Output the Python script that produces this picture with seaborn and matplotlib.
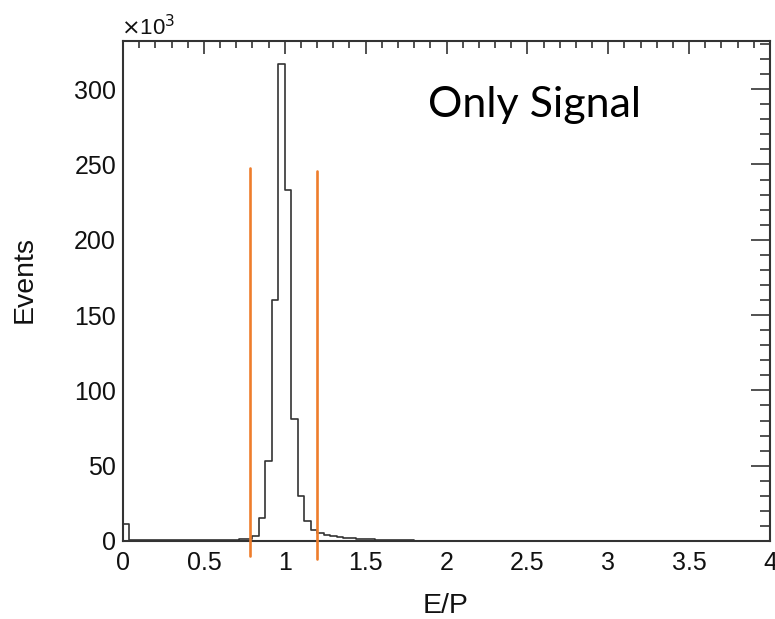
import numpy as np
import pandas as pd
import matplotlib
matplotlib.use("Agg")
import matplotlib.pyplot as plt
from matplotlib.ticker import MultipleLocator, FuncFormatter
import seaborn as sns

# ---- data (Events in units of 10^3, 100 bins of width 0.04 from 0 to 4) ----
x_min, x_max, bin_width = 0.0, 4.0, 0.04
counts_k = [
    11.5, 0.6, 0.6, 0.6, 0.6, 0.6, 0.6, 0.6, 0.6, 0.6,
    0.6, 0.6, 0.6, 0.6, 0.6, 0.7, 0.8, 0.9, 1.1, 1.5,
    3.5, 15.0, 53.0, 160.0, 317.0, 233.0, 81.0, 30.0, 13.0, 7.5,
    5.5, 4.3, 3.4, 2.8, 2.2, 1.8, 1.5, 1.2, 1.0, 0.85,
    0.7, 0.6, 0.5, 0.42, 0.36, 0.3, 0.25, 0.2, 0.18, 0.15,
    0.13, 0.11, 0.1, 0.09, 0.08, 0.07, 0.06, 0.05, 0.05, 0.04,
    0.03, 0.03, 0.02, 0.02, 0.02, 0.01, 0.01, 0.01, 0.01, 0.01,
    0, 0, 0, 0, 0, 0, 0, 0, 0, 0,
    0, 0, 0, 0, 0, 0, 0, 0, 0, 0,
    0, 0, 0, 0, 0, 0, 0, 0, 0, 0,
]
# selection cut lines (E/P position, bottom, top in 10^3 events)
cut_x = [0.785, 1.197]
cut_bottom = [-10.0, -12.0]
cut_top = [248.0, 245.5]

x_label = "E/P"
y_label = "Events"
annotation = "Only Signal"

# ---- build the table ----
n_bins = len(counts_k)
bin_centers = x_min + bin_width * (np.arange(n_bins) + 0.5)
df = pd.DataFrame({"ep": bin_centers, "events": counts_k})

sns.set_style("white")
plt.rcParams["font.family"] = ["Liberation Sans", "DejaVu Sans"]

W, H = 775, 619
fig = plt.figure(figsize=(W / 100, H / 100), dpi=100)
ax = fig.add_axes([123 / W, 1 - 541 / H, (770 - 123) / W, (541 - 41) / H])

sns.histplot(data=df, x="ep", weights="events", binwidth=bin_width,
             binrange=(x_min, x_max), element="step", fill=False,
             color="#333333", linewidth=1.2, ax=ax)

for xc, yb, yt in zip(cut_x, cut_bottom, cut_top):
    ax.plot([xc, xc], [yb, yt], color="#EE7D2C", linewidth=1.9,
            clip_on=False, zorder=5)

ax.set_xlim(x_min, x_max)
ax.set_ylim(0, 332)

ax.xaxis.set_major_locator(MultipleLocator(0.5))
ax.xaxis.set_minor_locator(MultipleLocator(0.1))
ax.yaxis.set_major_locator(MultipleLocator(50))
ax.yaxis.set_minor_locator(MultipleLocator(10))
ax.xaxis.set_major_formatter(FuncFormatter(lambda v, p: f"{v:g}"))
ax.yaxis.set_major_formatter(FuncFormatter(lambda v, p: f"{v:g}"))

ax.tick_params(axis="both", which="both", direction="in", top=True, right=True,
               colors="#222222", labelcolor="#111111", width=1.1)
ax.tick_params(axis="x", which="major", length=9.5, labelsize=18, pad=7)
ax.tick_params(axis="x", which="minor", length=5)
ax.tick_params(axis="y", which="major", length=14, labelsize=18, pad=5)
ax.tick_params(axis="y", which="minor", length=7)

for s in ax.spines.values():
    s.set_visible(True)
    s.set_color("#333333")
    s.set_linewidth(1.5)

ax.set_xlabel("")
ax.set_ylabel("")
fig.text(446 / W, 1 - 606 / H, x_label, ha="center", va="center", fontsize=20.5,
         color="#111111")
fig.text(25 / W, 1 - 279 / H, y_label, ha="center", va="center",
         rotation=90, fontsize=20.5, color="#111111")
fig.text(121 / W, 1 - 35 / H, r"$\times$10$^{3}$", ha="left", va="baseline",
         fontsize=16, color="#111111")
fig.text(428 / W, 1 - 117 / H, annotation, ha="left", va="baseline",
         fontsize=31, family=["Lato", "DejaVu Sans"], color="black")

fig.savefig("out.png", dpi=100)
